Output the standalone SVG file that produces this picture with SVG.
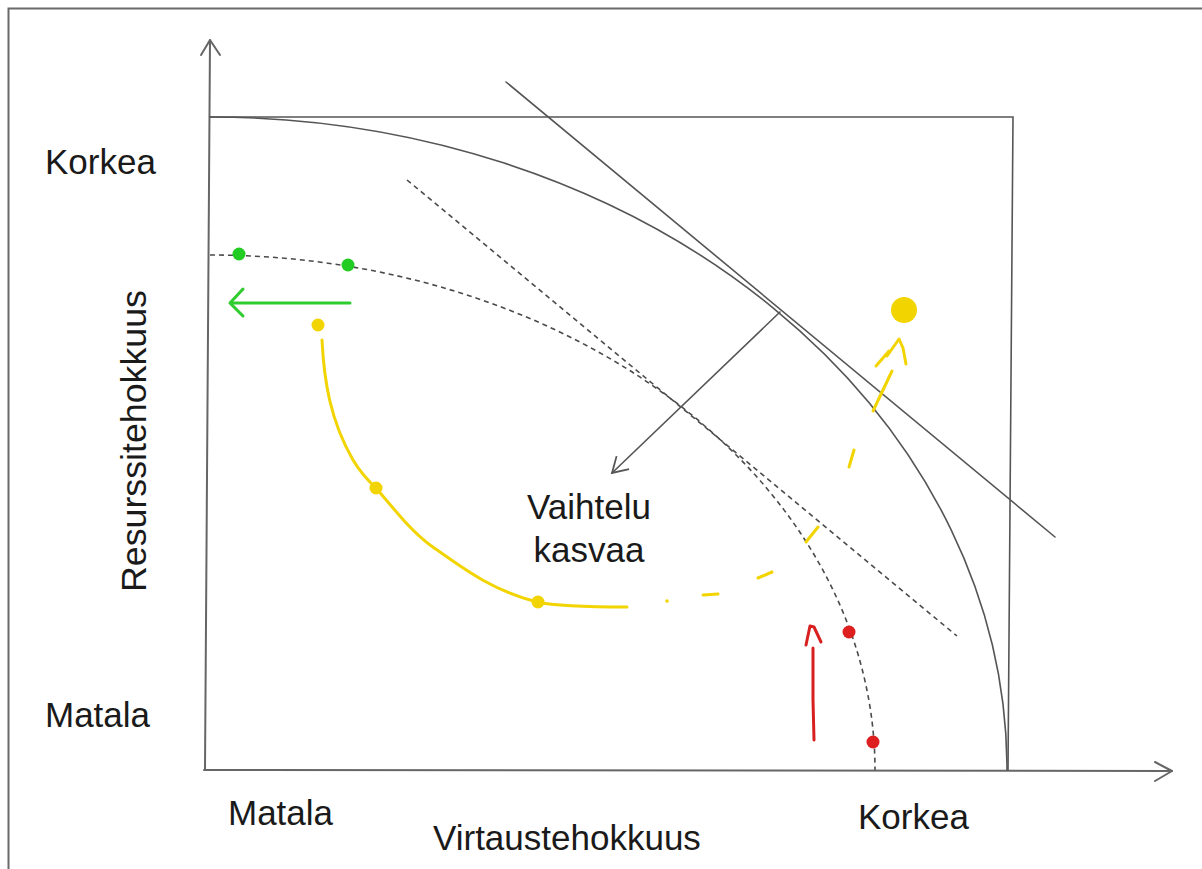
<svg xmlns="http://www.w3.org/2000/svg" width="1202" height="869" viewBox="0 0 1202 869">
  <style>
    .txt { font-family: "Liberation Sans", Arial, sans-serif; font-size: 35px; fill: #1a1a1a; }
    .ln { fill: none; stroke: #555; stroke-width: 1.6; stroke-linecap: round; }
    .ax { fill: none; stroke: #666; stroke-width: 2; stroke-linecap: round; stroke-linejoin: round; }
    .dash { fill: none; stroke: #4a4a4a; stroke-width: 1.6; stroke-dasharray: 5 4; }
    .yel { fill: none; stroke: #f2d400; stroke-width: 3; stroke-linecap: round; stroke-linejoin: round; }
    .grn { fill: none; stroke: #2ecc2e; stroke-width: 3; stroke-linecap: round; stroke-linejoin: round; }
    .red { fill: none; stroke: #d92020; stroke-width: 3; stroke-linecap: round; stroke-linejoin: round; }
  </style>
  <defs>
    <marker id="open" viewBox="0 0 20 20" refX="18" refY="10" markerWidth="20" markerHeight="20" markerUnits="userSpaceOnUse" orient="auto">
      <path d="M3,1 L18,10 L3,19" fill="none" stroke="#555" stroke-width="1.8"/>
    </marker>
  </defs>
  <rect width="1202" height="869" fill="#ffffff"/>

  <!-- page frame -->
  <g id="frame">
    <path d="M8.5,869 L8.5,8.5 L1202,8.5" fill="none" stroke="#6a6a6a" stroke-width="2"/>
  </g>

  <!-- axes -->
  <g id="axes">
    <path class="ax" d="M205,770 L210,40"/>
    <path class="ax" d="M201,55 L210,40 L220,55"/>
    <path class="ax" d="M204,770 L1172,771"/>
    <path class="ax" d="M1155,762 L1172,771 L1155,781"/>
  </g>

  <!-- bounding box and frontier -->
  <g id="box">
    <path class="ln" d="M210,117 L1013,117 L1008,770"/>
  </g>
  <g id="frontier">
    <path class="ln" d="M210,117 A797,653 0 0 1 1007,770"/>
  </g>
  <g id="frontier-inner">
    <path class="dash" d="M210,255 A665,515 0 0 1 875,770"/>
  </g>

  <!-- connectors: tangent lines and shift arrow -->
  <g id="connectors">
    <path class="ln" d="M506,82 L1055,537"/>
    <path class="dash" d="M407,180 L957,636"/>
    <path class="ln" d="M780,312 L612,473" marker-end="url(#open)"/>
  </g>

  <!-- green: moving towards resource efficiency -->
  <g id="green">
    <circle cx="239" cy="254" r="6.5" fill="#22cc22"/>
    <circle cx="348" cy="265" r="6.5" fill="#22cc22"/>
    <path class="grn" d="M350,303 L232,303"/>
    <path class="grn" d="M243,289 L230,303 L243,316"/>
  </g>

  <!-- yellow: path through the matrix -->
  <g id="yellow">
    <circle cx="318" cy="325" r="6.5" fill="#f2d400"/>
    <circle cx="376" cy="488" r="6.5" fill="#f2d400"/>
    <circle cx="538" cy="602" r="6.5" fill="#f2d400"/>
    <path class="yel" d="M322,340 C324,380 330,420 353,460 Q362,475 376,488 C395,510 410,530 430,545 C460,566 490,590 537,602 C560,607 600,607 627,607"/>
    <circle cx="667" cy="601" r="1.8" fill="#f2d400"/>
    <path class="yel" d="M703,595 L718,594"/>
    <path class="yel" d="M758,578 L772,572"/>
    <path class="yel" d="M806,542 L818,527"/>
    <path class="yel" d="M849,467 L854,450"/>
    <path class="yel" d="M873,411 L892,371"/>
    <path class="yel" d="M876,366 L889,351 L887,356 L899,339 L903,348 L906,364"/>
    <circle cx="904" cy="310" r="13" fill="#f2d400"/>
  </g>

  <!-- red: moving towards flow efficiency -->
  <g id="red">
    <circle cx="849" cy="632" r="6.5" fill="#dd1f1f"/>
    <circle cx="873" cy="742" r="6.5" fill="#dd1f1f"/>
    <path class="red" d="M813,648 L813,700 L814,740"/>
    <path class="red" d="M806,645 L810,626 L814,627 L821,642"/>
  </g>

  <!-- labels -->
  <g id="labels">
    <text class="txt" x="45" y="174">Korkea</text>
    <text class="txt" x="45" y="727">Matala</text>
    <text class="txt" x="228" y="825">Matala</text>
    <text class="txt" x="858" y="829">Korkea</text>
    <text class="txt" x="433" y="850">Virtaustehokkuus</text>
    <text class="txt" transform="translate(146,592) rotate(-90)" textLength="302" lengthAdjust="spacingAndGlyphs">Resurssitehokkuus</text>
    <text class="txt" x="589" y="519" text-anchor="middle">Vaihtelu</text>
    <text class="txt" x="589" y="562" text-anchor="middle">kasvaa</text>
  </g>
</svg>
